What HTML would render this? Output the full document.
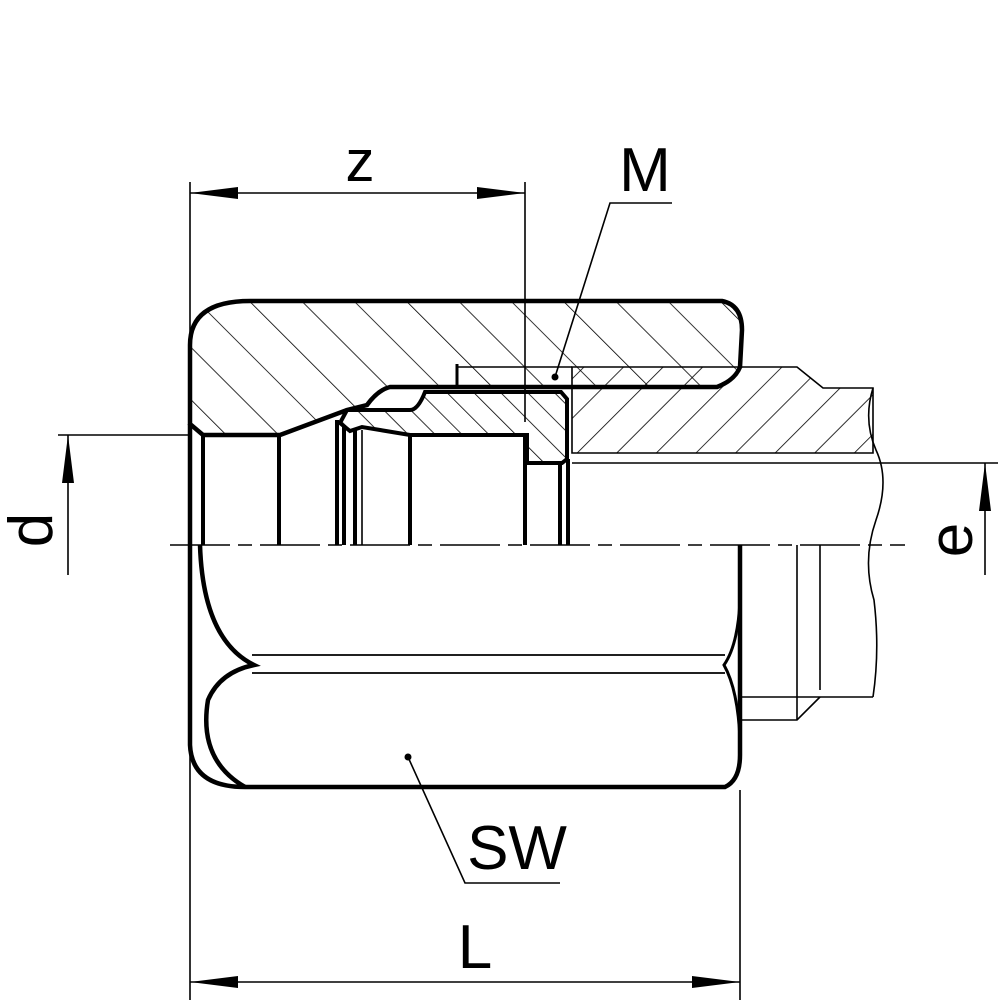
<!DOCTYPE html>
<html><head><meta charset="utf-8"><style>
html,body{margin:0;padding:0;background:#fff;}
svg{display:block;}
text{font-family:"Liberation Sans",sans-serif;fill:#000;}
</style></head><body>
<svg width="1003" height="1003" viewBox="0 0 1003 1003" xmlns="http://www.w3.org/2000/svg">
<defs>
<pattern id="hn" patternUnits="userSpaceOnUse" width="37" height="37" patternTransform="rotate(-45)">
<line x1="0" y1="0" x2="0" y2="37" stroke="#000" stroke-width="1.6"/></pattern>
<pattern id="hr" patternUnits="userSpaceOnUse" width="19" height="19" patternTransform="rotate(-45)">
<line x1="0" y1="0" x2="0" y2="19" stroke="#000" stroke-width="1.6"/></pattern>
<pattern id="ht" patternUnits="userSpaceOnUse" width="28" height="28" patternTransform="rotate(45)">
<line x1="0" y1="0" x2="0" y2="28" stroke="#000" stroke-width="1.6"/></pattern>
</defs>
<g fill="none" stroke="#000">
<path d="M572,367 L797,367 L823,388 L873,388 L873,453 L572,453 Z" fill="url(#ht)" stroke-width="1.6"/>
<line x1="572" y1="463" x2="998" y2="463" stroke-width="1.6"/>
<path d="M190,345 Q190,301 250,301 L722,301 Q742,305 742,330 L740,367 Q735,380 717,387 L390,387 Q378,390 367,405 L347,410 L280,435 L203,435 L190,424 Z" fill="url(#hn)" stroke-width="4.5"/>
<path d="M347,410 L410,410 Q418,410 425,392 L561,392 L567,399 L567,459 L562,463 L527,463 L527,435 L410,435 L362,427 L350,431 L340,423 Z" fill="url(#hr)" stroke-width="4"/>
<path d="M457,364 L457,387" stroke-width="3"/>
<line x1="457" y1="367" x2="572" y2="367" stroke-width="1.6"/>
<g stroke-width="4">
<line x1="203" y1="435" x2="203" y2="545"/>
<line x1="279" y1="435" x2="279" y2="545"/>
<line x1="337" y1="420" x2="337" y2="545"/>
<line x1="344" y1="425" x2="344" y2="545"/>
<line x1="355" y1="428" x2="355" y2="545"/>
<line x1="410" y1="435" x2="410" y2="545"/>
<line x1="525" y1="435" x2="525" y2="545"/>
<line x1="560" y1="463" x2="560" y2="545"/>
<line x1="568" y1="459" x2="568" y2="545"/>
</g>
<line x1="362" y1="430" x2="362" y2="545" stroke-width="1.6"/>
<path d="M873,388 Q863,420 876,450 Q890,480 876,520 Q862,560 874,600 Q880,650 873,697" stroke-width="1.6"/>
<line x1="742" y1="697" x2="873" y2="697" stroke-width="1.6"/>
<path d="M742,720 L797,720 L820,697" stroke-width="1.6"/>
<line x1="797" y1="545" x2="797" y2="720" stroke-width="1.6"/>
<line x1="820" y1="545" x2="820" y2="690" stroke-width="1.6"/>
<line x1="170" y1="545" x2="905" y2="545" stroke-width="1.6" stroke-dasharray="60,8,14,8"/>
<path d="M190,424 L190,745 Q192,787 245,787 L725,787 Q740,780 740,755 L740,545" stroke-width="4.5"/>
<path d="M200,545 Q203,640 254,665 Q220,672 208,700 Q198,760 245,787" stroke-width="4.5"/>
<path d="M740,600 Q738,645 724,665 Q738,690 740,740" stroke-width="3"/>
<line x1="252" y1="655" x2="725" y2="655" stroke-width="1.8"/>
<line x1="252" y1="673" x2="725" y2="673" stroke-width="1.8"/>
<g stroke-width="1.6">
<line x1="190" y1="182" x2="190" y2="1000"/>
<line x1="525" y1="182" x2="525" y2="422"/>
<line x1="740" y1="790" x2="740" y2="1000"/>
<line x1="190" y1="193" x2="525" y2="193"/>
<line x1="190" y1="982" x2="740" y2="982"/>
<line x1="58" y1="435" x2="190" y2="435"/>
<line x1="68" y1="435" x2="68" y2="575"/>
<line x1="985" y1="463" x2="985" y2="575"/>
<path d="M555,377 L610,203 L672,203"/>
<path d="M408,757 L465,883 L560,883"/>
</g>
</g>
<g fill="#000">
<path d="M190,193 L238,187 L238,199 Z"/>
<path d="M525,193 L477,187 L477,199 Z"/>
<path d="M190,982 L238,976 L238,988 Z"/>
<path d="M740,982 L692,976 L692,988 Z"/>
<path d="M68,435 L62,483 L74,483 Z"/>
<path d="M985,463 L979,511 L991,511 Z"/>
<circle cx="555" cy="377" r="3.5"/>
<circle cx="408" cy="757" r="3.5"/>
</g>
<text x="360" y="181" font-size="58" text-anchor="middle">z</text>
<text x="645" y="191" font-size="62" text-anchor="middle">M</text>
<text x="517" y="869" font-size="62" text-anchor="middle">SW</text>
<text x="475" y="968" font-size="62" text-anchor="middle">L</text>
<text transform="translate(52,530) rotate(-90)" font-size="62" text-anchor="middle">d</text>
<text transform="translate(972,540) rotate(-90)" font-size="62" text-anchor="middle">e</text>
</svg>
</body></html>
